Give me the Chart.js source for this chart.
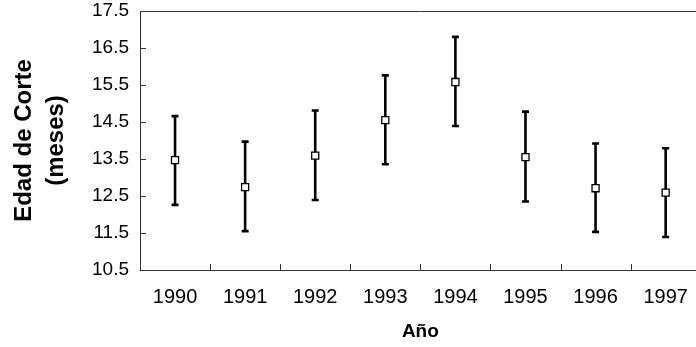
<!DOCTYPE html>
<html>
<head>
<meta charset="utf-8">
<script src="https://cdn.jsdelivr.net/npm/chart.js@4"></script>
<style>
  html, body { margin: 0; padding: 0; background: #fff; overflow: hidden; }
  #wrap { width: 696px; height: 347px; overflow: hidden; }
</style>
</head>
<body>
<div id="wrap"><canvas id="grafico" width="707" height="347"></canvas></div>
<script>
// datos
const anios = ["1990", "1991", "1992", "1993", "1994", "1995", "1996", "1997"];
const media = [13.47, 12.74, 13.59, 14.55, 15.58, 13.55, 12.71, 12.59];
const limiteSup = [14.66, 13.97, 14.81, 15.76, 16.80, 14.78, 13.92, 13.79];
const limiteInf = [12.26, 11.55, 12.39, 13.36, 14.39, 12.35, 11.53, 11.39];

const yMin = 10.5, yMax = 17.5, yPaso = 1;

// barras de error + marco + marcas hacia dentro
const barrasError = {
  id: "barrasError",
  beforeDatasetsDraw(chart) {
    const { ctx, chartArea, scales: { x, y } } = chart;
    ctx.save();
    ctx.strokeStyle = "#000";
    ctx.lineWidth = 2.6;
    ctx.lineCap = "butt";
    anios.forEach((_, i) => {
      const px = x.getPixelForValue(i);
      const top = y.getPixelForValue(limiteSup[i]);
      const bot = y.getPixelForValue(limiteInf[i]);
      ctx.beginPath();
      ctx.moveTo(px, top);
      ctx.lineTo(px, bot);
      ctx.moveTo(px - 3.5, top);
      ctx.lineTo(px + 3.5, top);
      ctx.moveTo(px - 3.5, bot);
      ctx.lineTo(px + 3.5, bot);
      ctx.stroke();
    });

    // linea superior y marcas
    ctx.strokeStyle = "#333";
    ctx.lineWidth = 1;
    ctx.beginPath();
    ctx.moveTo(chartArea.left, chartArea.top + 0.5);
    ctx.lineTo(chartArea.right, chartArea.top + 0.5);
    for (let v = yMin; v <= yMax + 0.001; v += yPaso) {
      const py = Math.round(y.getPixelForValue(v)) + 0.5;
      ctx.moveTo(chartArea.left, py);
      ctx.lineTo(chartArea.left + 6, py);
    }
    for (let i = 1; i < anios.length; i++) {
      const px = Math.round((x.getPixelForValue(i - 1) + x.getPixelForValue(i)) / 2) + 0.5;
      ctx.moveTo(px, chartArea.bottom);
      ctx.lineTo(px, chartArea.bottom - 6);
    }
    ctx.stroke();
    ctx.restore();
  }
};

new Chart(document.getElementById("grafico"), {
  type: "line",
  data: {
    labels: anios,
    datasets: [{
      data: media,
      showLine: false,
      pointStyle: "rect",
      pointRadius: 5,
      pointBorderWidth: 1.3,
      pointBorderColor: "#000",
      pointBackgroundColor: "#fff"
    }]
  },
  options: {
    responsive: false,
    animation: false,
    devicePixelRatio: 1,
    layout: { padding: { top: 11, right: 0, left: 0, bottom: 0 } },
    plugins: {
      legend: { display: false },
      tooltip: { enabled: false }
    },
    scales: {
      x: {
        offset: true,
        grid: { display: false, drawTicks: false },
        border: { display: true, color: "#333", width: 1 },
        ticks: {
          color: "#000",
          padding: 15,
          font: { family: "'Liberation Sans', Arial, sans-serif", size: 20 }
        },
        title: {
          display: true,
          text: "Año",
          color: "#000",
          padding: { top: 5, bottom: 4 },
          font: { family: "'Liberation Sans', Arial, sans-serif", size: 19, weight: "bold" }
        },
        afterFit(scale) {
          scale.height = 77;
          scale.paddingLeft = 0;
          scale.paddingRight = 0;
        }
      },
      y: {
        min: yMin,
        max: yMax,
        grid: { display: false, drawTicks: false },
        border: { display: true, color: "#333", width: 1 },
        ticks: {
          stepSize: yPaso,
          color: "#000",
          padding: 11,
          callback: (v) => v.toFixed(1),
          font: { family: "'Liberation Sans', Arial, sans-serif", size: 19 }
        },
        title: {
          display: true,
          text: ["Edad de Corte", "(meses)"],
          color: "#000",
          padding: { top: 8, bottom: 0 },
          font: { family: "'Liberation Sans', Arial, sans-serif", size: 24, weight: "bold", lineHeight: 1.33 }
        },
        afterFit(scale) {
          scale.width = 140;
          scale.paddingTop = 0;
          scale.paddingBottom = 0;
        }
      }
    }
  },
  plugins: [barrasError]
});
</script>
</body>
</html>
